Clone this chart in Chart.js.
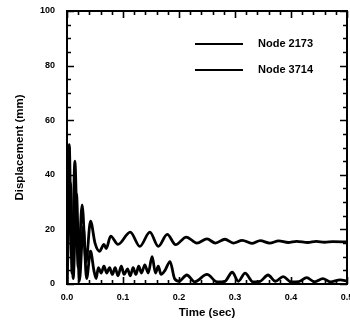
<!DOCTYPE html>
<html>
<head>
<meta charset="utf-8">
<script src="https://cdn.jsdelivr.net/npm/chart.js@4/dist/chart.umd.min.js"></script>
<style>
  html, body { margin: 0; padding: 0; background: #fff; }
  canvas { display: block; }
</style>
</head>
<body>
<canvas id="c" width="350" height="325"></canvas>
<script>
// Nodal displacement history, time in seconds, displacement in mm
const seriesNames = ['Node 2173', 'Node 3714'];

const time2173 = [0, 0.002, 0.004, 0.007, 0.009, 0.014, 0.020, 0.027, 0.034, 0.042, 0.050, 0.058, 0.066, 0.070, 0.078,
  0.091, 0.113, 0.130, 0.148, 0.163, 0.179, 0.194, 0.213, 0.232, 0.250, 0.265, 0.282, 0.297, 0.313, 0.330,
  0.345, 0.362, 0.378, 0.395, 0.410, 0.430, 0.445, 0.460, 0.475, 0.500];
const disp2173 = [0, 30, 51, 20, 4, 45, 6, 29, 8, 23, 15, 12, 14.5, 13, 17.5,
  14.5, 19, 13.8, 19, 13.8, 18.2, 14.4, 17.2, 15, 16.5, 15, 16.4, 15, 16, 14.9,
  15.9, 15, 15.8, 15.2, 15.6, 15.2, 15.6, 15.3, 15.5, 15.4];

const time3714 = [0, 0.003, 0.006, 0.011, 0.017, 0.022, 0.029, 0.035, 0.042, 0.048, 0.052, 0.056, 0.061, 0.066,
  0.071, 0.076, 0.081, 0.086, 0.091, 0.097, 0.102, 0.108, 0.113, 0.118, 0.123, 0.128, 0.133, 0.139, 0.145,
  0.152, 0.158, 0.163, 0.168, 0.175, 0.184, 0.192, 0.200, 0.214, 0.228, 0.250, 0.268, 0.282, 0.295, 0.306,
  0.318, 0.332, 0.345, 0.359, 0.372, 0.386, 0.400, 0.414, 0.428, 0.442, 0.457, 0.470, 0.488, 0.500];
const disp3714 = [0, 20, 37, 2, 33, 1, 21, 2, 12, 5, 2, 6, 4, 6.5,
  4, 6, 3.5, 6, 3, 6.5, 3.5, 5.5, 3, 6, 3.5, 6.5, 4, 7, 4,
  10, 4, 6.5, 3.5, 5, 8.2, 2, 1, 3.3, 0.8, 3.5, 0.8, 1, 4.3, 1,
  4, 0.8, 1, 3.3, 1, 2.7, 0.8, 0.9, 2.3, 0.8, 2, 0.8, 1.5, 1];

const xTickStep = 0.02;   // minor ticks; labels every 0.1
const yTickStep = 5;      // minor ticks; labels every 20

const toPoints = (ts, vs) => ts.map((t, i) => ({ x: t, y: vs[i] }));

const labelFont = { family: "'Liberation Sans Narrow', 'Liberation Sans', Arial, sans-serif", size: 9, weight: 'bold' };
const titleFont = { family: "'Liberation Sans', Arial, sans-serif", size: 11.5, weight: 'bold' };

// Frame, inward ticks on all four sides, and the in-plot legend
const framePlugin = {
  id: 'frame',
  afterDatasetsDraw(chart) {
    const { ctx, chartArea: a, scales } = chart;
    ctx.save();
    ctx.strokeStyle = '#000';
    ctx.lineWidth = 2;
    ctx.strokeRect(a.left, a.top, a.right - a.left, a.bottom - a.top);
    ctx.lineWidth = 1.6;
    ctx.beginPath();
    scales.x.ticks.forEach(tk => {
      const px = Math.round(scales.x.getPixelForValue(tk.value)) + 0.5;
      const major = Math.abs(tk.value * 10 - Math.round(tk.value * 10)) < 1e-6;
      const len = major ? 7 : 4;
      ctx.moveTo(px, a.bottom); ctx.lineTo(px, a.bottom - len);
      ctx.moveTo(px, a.top); ctx.lineTo(px, a.top + len);
    });
    scales.y.ticks.forEach(tk => {
      const py = Math.round(scales.y.getPixelForValue(tk.value)) + 0.5;
      const major = tk.value % 20 === 0;
      const len = major ? 7 : 4;
      ctx.moveTo(a.left, py); ctx.lineTo(a.left + len, py);
      ctx.moveTo(a.right, py); ctx.lineTo(a.right - len, py);
    });
    ctx.stroke();

    // legend
    const rows = [44, 70];
    ctx.font = "bold 11px 'Liberation Sans', Arial, sans-serif";
    ctx.textBaseline = 'middle';
    ctx.fillStyle = '#000';
    chart.data.datasets.forEach((ds, i) => {
      ctx.lineWidth = 2;
      ctx.strokeStyle = ds.borderColor;
      ctx.beginPath();
      ctx.moveTo(195, rows[i]); ctx.lineTo(243, rows[i]);
      ctx.stroke();
      ctx.fillText(ds.label, 258, rows[i]);
    });
    ctx.restore();
  }
};

new Chart(document.getElementById('c'), {
  type: 'line',
  data: {
    datasets: [
      { label: seriesNames[0], data: toPoints(time2173, disp2173) },
      { label: seriesNames[1], data: toPoints(time3714, disp3714) }
    ].map(d => Object.assign(d, {
      borderColor: '#000', borderWidth: 2.8, pointRadius: 0,
      cubicInterpolationMode: 'monotone', fill: false
    }))
  },
  options: {
    responsive: false,
    animation: false,
    devicePixelRatio: 1,
    layout: { padding: { left: 0, right: 3, top: 11, bottom: 0 } },
    plugins: { legend: { display: false }, tooltip: { enabled: false } },
    scales: {
      x: {
        type: 'linear', min: 0, max: 0.5,
        grid: { display: false, drawTicks: false },
        border: { display: false },
        ticks: {
          stepSize: xTickStep, autoSkip: false, maxRotation: 0, padding: 8,
          color: '#000', font: labelFont,
          callback: v => Math.abs(v * 10 - Math.round(v * 10)) < 1e-6 ? v.toFixed(1) : ''
        },
        title: { display: true, text: 'Time (sec)', color: '#000', font: titleFont, padding: { top: 2, bottom: 5 } },
        afterFit: s => { s.height = 41; s.paddingLeft = 0; s.paddingRight = 0; }
      },
      y: {
        min: 0, max: 100,
        grid: { display: false, drawTicks: false },
        border: { display: false },
        ticks: {
          stepSize: yTickStep, autoSkip: false, padding: 12,
          color: '#000', font: labelFont,
          callback: v => v % 20 === 0 ? String(v) : ''
        },
        title: { display: true, text: 'Displacement (mm)', color: '#000', font: titleFont, padding: { top: 13, bottom: 0 } },
        afterFit: s => { s.width = 67; s.paddingTop = 0; s.paddingBottom = 0; }
      }
    }
  },
  plugins: [framePlugin]
});
</script>
</body>
</html>
